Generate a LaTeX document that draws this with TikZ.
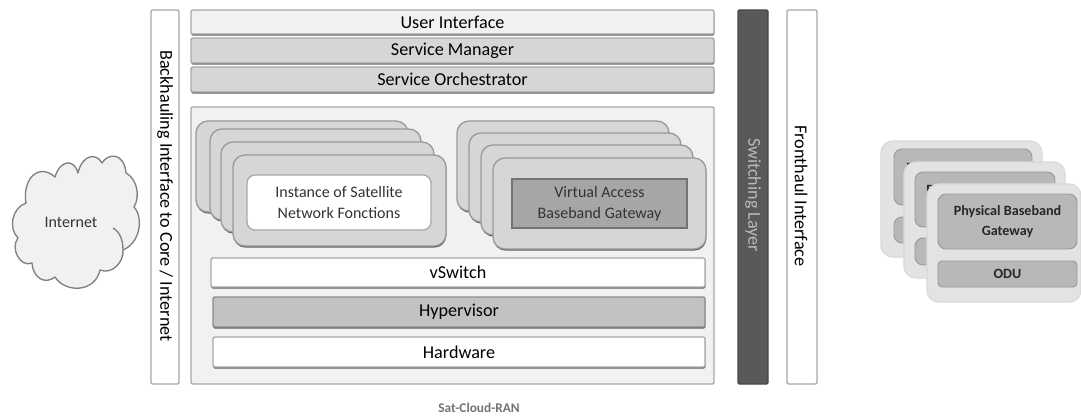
\documentclass[tikz,border=0pt]{standalone}
\usepackage{fontspec}
\usetikzlibrary{shadows}
\setmainfont{Carlito}
\definecolor{lineg}{gray}{0.66}
\definecolor{fillA}{gray}{0.945}
\definecolor{fillB}{gray}{0.84}
\definecolor{fillC}{gray}{0.76}
\definecolor{fillD}{gray}{0.65}
\definecolor{textg}{gray}{0.2}
\tikzset{
  bigfont/.style={font=\fontsize{13.6}{16}\selectfont},
  softshadow/.style={drop shadow={shadow xshift=0.3pt,shadow yshift=-1.2pt,opacity=0.6,fill=black}},
  bx/.style={draw=lineg,line width=1pt,inner sep=0pt,align=center,text=black,rounded corners=1pt,bigfont},
  lite/.style={bx,fill=fillA,softshadow},
  mid/.style={bx,fill=fillB,softshadow},
  whitebar/.style={bx,fill=white},
  stackcard/.style={bx,draw=black!40,fill=fillB,rounded corners=9pt,softshadow},
  edgecard/.style={draw=black!15,line width=1pt,inner sep=0pt,fill=black!11,rounded corners=9pt},
  innercard/.style={draw=black!40,line width=.7pt,inner sep=0pt,align=center,fill=black!28,rounded corners=6pt,text=black!85,font=\fontsize{10.6}{15}\selectfont\bfseries},
  smalltext/.style={font=\fontsize{12}{15.75}\selectfont,text=textg},
  fragment/.style={inner sep=0pt,text=black!85,font=\fontsize{10.6}{15}\selectfont\bfseries},
}
% \pbox[style]{name}{x1}{y1}{x2}{y2}{text}
\newcommand{\pbox}[7][]{\node[#1,minimum width={(#5-#3)*0.75pt},minimum height={(#6-#4)*0.75pt}] (#2) at ({(#3+#5)/2},{(#4+#6)/2}) {#7};}
\begin{document}
\begin{tikzpicture}[x=0.75pt,y=-0.75pt]
\useasboundingbox (0,0) rectangle (1081,417);
% left vertical
\pbox[whitebar]{back}{151}{10}{179}{384}{}
\node[rotate=-90,bigfont] (backt) at (165,196) {Backhauling Interface to Core / Internet};
% top bars
\pbox[lite]{ui}{191}{10}{714}{34}{User Interface}
\pbox[mid]{sm}{191}{38}{714}{63}{Service Manager}
\pbox[mid]{so}{191}{67}{714}{92}{Service Orchestrator}
% big box
\pbox[bx,fill=fillA]{big}{191}{107}{714}{384}{}
% left stack
\pbox[stackcard]{la}{196}{121}{408}{212}{}
\pbox[stackcard]{lb}{210}{129}{421}{220}{}
\pbox[stackcard]{lc}{221}{142}{434}{232}{}
\pbox[stackcard]{ld}{233}{155}{446}{246}{}
\pbox[bx,fill=white,rounded corners=6pt,smalltext]{inst}{247}{175}{431}{230}{Instance of Satellite\\Network Fonctions}
% right stack
\pbox[stackcard]{ra}{457}{121}{669}{211}{}
\pbox[stackcard]{rb}{469}{133}{681}{222}{}
\pbox[stackcard]{rc}{481}{145}{693}{235}{}
\pbox[stackcard]{rd}{493}{158}{706}{249}{}
\pbox[bx,draw=black!55,fill=fillD,rounded corners=0pt,smalltext]{vabg}{512}{179}{687}{228}{Virtual Access\\Baseband Gateway}
% bars
\pbox[whitebar,softshadow]{vs}{211}{258}{705}{287}{vSwitch}
\pbox[bx,fill=fillC,draw=black!45,softshadow]{hv}{213}{297}{705}{327}{Hypervisor}
\pbox[whitebar,softshadow]{hw}{213}{337}{705}{367}{Hardware}
% switching
\pbox[bx,fill=black!65,draw=black!72]{sw}{738}{10}{768}{384}{}
\node[rotate=-90,text=black!27,bigfont] (swt) at (753,195) {Switching Layer};
\pbox[whitebar]{fh}{787}{10}{817}{384}{}
\node[rotate=-90,bigfont] (fht) at (801,196) {Fronthaul Interface};
% physical cards
\pbox[edgecard]{pa}{881}{141}{1042}{257}{}
\pbox[innercard]{paa}{894}{149}{1032}{205}{}
\pbox[innercard]{pab}{894}{217}{1032}{243}{}
\node[fragment] (pat) at (910,168) {P};
\pbox[edgecard]{pb}{904}{162}{1065}{278}{}
\pbox[innercard]{pba}{915}{172}{1055}{227}{}
\pbox[innercard]{pbb}{915}{238}{1055}{265}{}
\node[fragment] (pbt) at (934,190) {Ph};
\pbox[edgecard]{pc}{927}{184}{1081}{302}{}
\pbox[innercard]{pca}{938}{194}{1077}{249}{Physical Baseband\\Gateway}
\pbox[innercard,rounded corners=3pt]{pcb}{938}{261}{1077}{287}{ODU}
% cloud
\draw[draw=black!50,line width=1pt,fill=fillA,line join=round] (26,203)
  .. controls (22,180) and (38,162) .. (55,177)
  .. controls (60,160) and (74,158) .. (78,173)
  .. controls (82,155) and (96,152) .. (102,163)
  .. controls (108,153) and (124,152) .. (126,173)
  .. controls (136,178) and (141,195) .. (134,207)
  .. controls (144,218) and (140,243) .. (123,250)
  .. controls (124,262) and (112,275) .. (100,270)
  .. controls (95,293) and (65,293) .. (55,277)
  .. controls (45,285) and (33,278) .. (32,263)
  .. controls (20,268) and (10,248) .. (18,238)
  .. controls (8,228) and (12,208) .. (26,203) -- cycle;
\draw[draw=black!50,line width=1pt] (113,228) .. controls (120,232) and (123,240) .. (123,250);
\node[smalltext] (inet) at (71,222) {Internet};
\node[font=\fontsize{10}{12}\selectfont\bfseries,text=black!55] (cap) at (479,408) {Sat-Cloud-RAN};
\end{tikzpicture}
\end{document}
